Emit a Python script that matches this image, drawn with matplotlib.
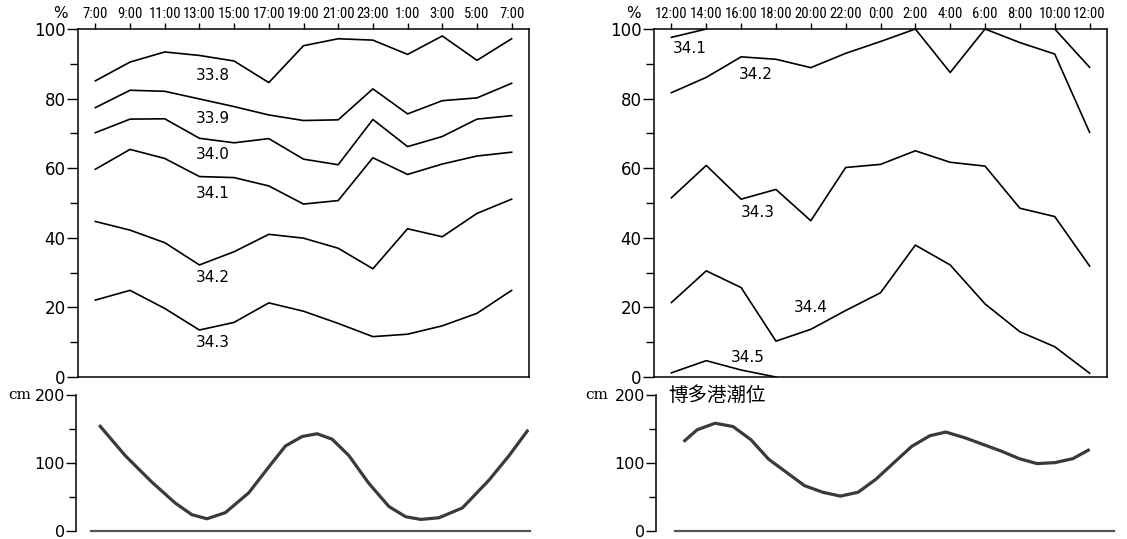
import numpy as np
import matplotlib
matplotlib.use("Agg")
import matplotlib.pyplot as plt
from matplotlib import font_manager

# pick a narrow sans font for the time labels if one is installed
names = {f.name for f in font_manager.fontManager.ttflist}
NARROW = next((n for n in ["Liberation Sans Narrow", "Roboto Condensed", "Liberation Sans"] if n in names), "DejaVu Sans")
plt.rcParams['font.family'] = ['DejaVu Sans']

# ---- data: salinity isoline percentages (upper panels) ----
left_times = ["7:00", "9:00", "11:00", "13:00", "15:00", "17:00", "19:00",
              "21:00", "23:00", "1:00", "3:00", "5:00", "7:00"]
left_s338 = [85.1, 90.5, 93.4, 92.4, 90.8, 84.6, 95.2, 97.2, 96.8, 92.7, 98.0, 91.0, 97.2]
left_s339 = [77.4, 82.4, 82.1, 79.9, 77.7, 75.3, 73.7, 73.9, 82.8, 75.6, 79.4, 80.2, 84.4]
left_s340 = [70.2, 74.1, 74.2, 68.6, 67.3, 68.5, 62.6, 61.0, 74.0, 66.2, 69.1, 74.1, 75.1]
left_s341 = [59.7, 65.4, 62.8, 57.6, 57.3, 54.9, 49.7, 50.7, 63.0, 58.2, 61.2, 63.5, 64.6]
left_s342 = [44.7, 42.2, 38.6, 32.2, 36.0, 41.0, 39.9, 37.0, 31.1, 42.6, 40.3, 47.0, 51.1]
left_s343 = [22.1, 24.9, 19.7, 13.5, 15.7, 21.3, 18.9, 15.4, 11.6, 12.3, 14.7, 18.3, 24.9]
left_series = [left_s338, left_s339, left_s340, left_s341, left_s342, left_s343]
left_names = ["33.8", "33.9", "34.0", "34.1", "34.2", "34.3"]
left_label_pos = [(3.39, 86.5), (3.39, 74.3), (3.39, 63.8), (3.39, 52.8), (3.39, 28.5), (3.39, 9.9)]

right_times = ["12:00", "14:00", "16:00", "18:00", "20:00", "22:00", "0:00",
               "2:00", "4:00", "6:00", "8:00", "10:00", "12:00"]
nan = np.nan
right_s341 = [97.6, 100.0, nan, nan, nan, nan, nan, nan, nan, nan, nan, 100.0, 89.0]
right_s342 = [81.7, 86.1, 92.0, 91.3, 88.9, 93.0, 96.4, 100.0, 87.5, 100.0, 96.1, 92.8, 70.3]
right_s343 = [51.5, 60.8, 51.1, 53.9, 44.9, 60.2, 61.1, 65.0, 61.7, 60.6, 48.5, 46.1, 31.9]
right_s344 = [21.4, 30.5, 25.7, 10.3, 13.7, 19.1, 24.2, 37.9, 32.2, 21.0, 13.0, 8.7, 1.1]
right_s345 = [1.2, 4.7, 2.0, 0.0, nan, nan, nan, nan, nan, nan, nan, nan, nan]
right_series = [right_s341, right_s342, right_s343, right_s344, right_s345]
right_names = ["34.1", "34.2", "34.3", "34.4", "34.5"]
right_label_pos = [(0.53, 94.4), (2.42, 86.8), (2.49, 47.3), (4.0, 19.9), (2.2, 5.5)]

# ---- data: tide level at Hakata port (lower panels), hours from first tick ----
left_tide_h = [0.39, 1.82, 3.35, 4.70, 5.65, 6.52, 7.57, 8.91, 10.06, 11.02, 11.98, 12.84,
               13.70, 14.66, 15.81, 16.96, 17.92, 18.79, 19.84, 21.18, 22.71, 23.86, 24.90]
left_tide_cm = [154, 111, 72, 41, 24, 18, 27, 56, 94, 125, 139, 143,
                135, 111, 70, 36, 21, 17, 19.5, 34, 75, 111, 147]
right_tide_h = [0.66, 1.37, 2.41, 3.44, 4.47, 5.50, 6.53, 7.56, 8.60, 9.63, 10.66, 11.69,
                12.72, 13.75, 14.79, 15.71, 16.84, 17.88, 18.91, 19.94, 20.97, 22.01, 23.03, 23.92]
right_tide_cm = [132.9, 148.8, 158.5, 153.6, 134.3, 105.4, 86.1, 66.7, 57.1, 51.3, 57.1, 76.4,
                 100.6, 124.6, 140.1, 145.5, 136.8, 127.1, 117.4, 106.4, 99.1, 100.6, 106.4, 118.8]

W, H = 1127, 539
fig = plt.figure(figsize=(W / 100, H / 100), dpi=100)


def px_axes(x0, x1, ytop, ybot):
    return fig.add_axes([x0 / W, 1 - ybot / H, (x1 - x0) / W, (ybot - ytop) / H])


def upper(ax, times, series, names, label_pos, pct_x):
    for s in series:
        ax.plot(range(len(times)), s, color='black', lw=1.2)
    for name, (x, y) in zip(names, label_pos):
        ax.text(x, y, name, ha='center', va='center', fontsize=11)
    ax.set_xlim(-0.5, 12.5)
    ax.set_ylim(0, 100)
    ax.xaxis.tick_top()
    ax.set_xticks(range(len(times)))
    ax.set_xticklabels(times, family=NARROW, fontsize=10.5)
    ax.tick_params(axis='x', direction='out', length=4, width=1, pad=1.5)
    ax.set_yticks(range(0, 101, 20))
    ax.set_yticks(range(10, 100, 20), minor=True)
    ax.tick_params(axis='y', which='major', direction='out', length=8, width=1, pad=1, labelsize=12)
    ax.tick_params(axis='y', which='minor', direction='out', length=6, width=1)
    for sp in ax.spines.values():
        sp.set_linewidth(1.1)
    ax.text(pct_x, 1.045, "%", transform=ax.transAxes, fontsize=11, ha='center', va='center')


def lower(ax, hours, cm, base, cm_x, title=None):
    ax.plot(hours, cm, color='#3a3a3a', lw=2.3, solid_joinstyle='round')
    ax.plot(base, [0, 0], color='#555555', lw=1.6, clip_on=False)
    ax.set_xlim(-1, 25)
    ax.set_ylim(0, 200)
    for s in ['top', 'right', 'bottom']:
        ax.spines[s].set_visible(False)
    ax.spines['left'].set_linewidth(1.1)
    ax.set_xticks([])
    ax.set_yticks([0, 100, 200])
    ax.set_yticks([50, 150], minor=True)
    ax.tick_params(axis='y', which='major', direction='out', length=7, width=1, pad=1, labelsize=11.5)
    ax.tick_params(axis='y', which='minor', direction='out', length=5, width=1)
    ax.text(cm_x, 200, "cm", fontsize=11, family='DejaVu Serif', ha='right', va='center',
            transform=ax.get_yaxis_transform())
    if title:
        ax.text(0.027, 1.0, title, transform=ax.transAxes, fontsize=14,
                family=['Noto Sans CJK JP', 'DejaVu Sans'], ha='left', va='center')


ax1 = px_axes(78, 529, 29, 377)
upper(ax1, left_times, left_series, left_names, left_label_pos, -0.04)
ax2 = px_axes(654, 1107, 29, 377)
upper(ax2, right_times, right_series, right_names, right_label_pos, -0.046)

ax3 = px_axes(76, 529, 395, 531)
lower(ax3, left_tide_h, left_tide_cm, [-0.12, 25.07], -0.1)
ax4 = px_axes(656, 1107, 395, 531)
lower(ax4, right_tide_h, right_tide_cm, [0.07, 25.4], -0.107, title="博多港潮位")

fig.savefig("out.png", dpi=100)
